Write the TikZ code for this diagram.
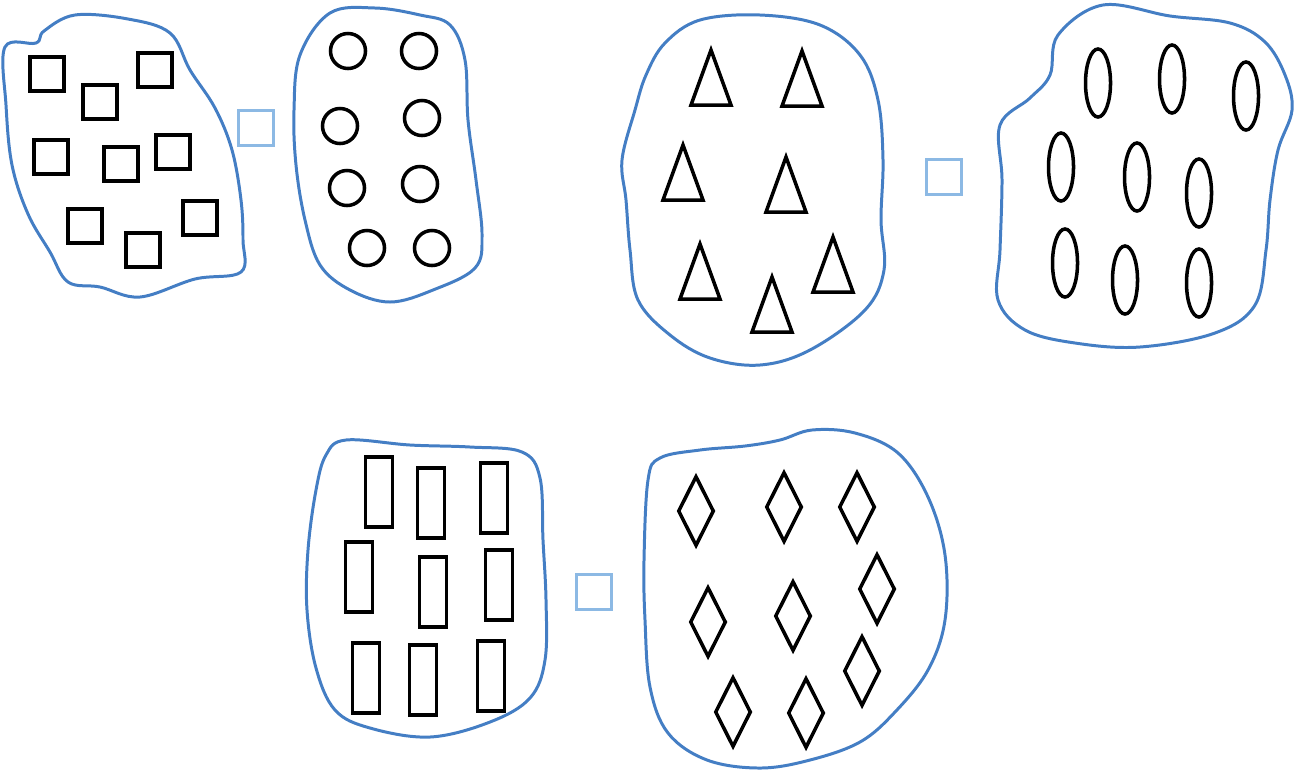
\documentclass[tikz,border=0pt]{standalone}
\usepackage{tikz}
\usetikzlibrary{shapes.geometric}
\definecolor{blobblue}{RGB}{68,126,196}
\definecolor{boxblue}{RGB}{140,185,228}

\begin{document}
\begin{tikzpicture}[
            x=0.01cm, y=-0.01cm,
            blob/.style={draw=blobblue, line width=0.85pt},
            blank/.style={rectangle, draw=boxblue, line width=0.6pt, minimum size=0.35cm, inner sep=0pt},
            sq/.style={rectangle, draw, line width=1pt, minimum size=0.34cm, inner sep=0pt},
            dot/.style={circle, draw, line width=1pt, minimum size=0.35cm, inner sep=0pt},
            oval/.style={ellipse, draw, line width=1pt, minimum width=0.25cm, minimum height=0.68cm, inner sep=0pt},
            bar/.style={rectangle, draw, line width=1pt, minimum width=0.27cm, minimum height=0.70cm, inner sep=0pt},
            gem/.style={diamond, draw, line width=1pt, minimum width=0.36cm, minimum height=0.70cm, inner sep=0pt},
            tri/.style={draw, line width=1pt, line join=miter}
        ]
        \useasboundingbox (0,0) rectangle (1298,772);

        % --- Blobs ---
        \draw[blob] plot[smooth cycle, tension=0.6] coordinates {
            (5,47) (36,43) (44,31) (75,15) (128,19) (170,33) (190,70) (215,108)
            (232,150) (241,200) (243,240) (241,272) (195,279) (140,297) (100,287)
            (68,282) (50,252) (28,214) (12,165) (6,105)};
        \draw[blob] plot[smooth cycle, tension=0.6] coordinates {
            (330,13) (375,8) (420,15) (450,25) (465,60) (468,120) (476,180) (482,235)
            (475,268) (433,290) (390,302) (350,290) (320,265) (305,220) (296,165)
            (294,110) (300,55)};
        \draw[blob] plot[smooth cycle, tension=0.6] coordinates {
            (700,20) (760,15) (820,25) (860,55) (878,100) (883,160) (881,220) (884,270)
            (865,310) (810,350) (760,365) (710,358) (670,335) (638,300) (630,250)
            (626,200) (622,160) (635,110) (646,75) (665,43)};
        \draw[blob] plot[smooth cycle, tension=0.6] coordinates {
            (1103,5) (1170,16) (1230,23) (1265,42) (1285,75) (1292,110) (1278,150)
            (1270,200) (1266,250) (1255,305) (1215,333) (1140,347) (1075,343)
            (1025,330) (998,300) (1000,250) (1002,180) (1000,125) (1030,98)
            (1050,75) (1058,35)};
        \draw[blob] plot[smooth cycle, tension=0.6] coordinates {
            (346,440) (410,445) (470,447) (522,452) (540,478) (543,540) (546,600)
            (545,660) (530,698) (490,722) (430,737) (370,728) (335,710) (316,668)
            (307,610) (308,550) (316,490) (326,455)};
        \draw[blob] plot[smooth cycle, tension=0.6] coordinates {
            (780,440) (812,430) (855,433) (898,453) (928,497) (945,555) (945,620)
            (928,670) (895,712) (860,742) (810,760) (760,768) (707,760) (668,733)
            (650,687) (645,620) (644,560) (648,480) (660,458) (700,450) (745,446)};

        % --- Answer boxes ---
        \node[blank] (b1) at (256,128) {};
        \node[blank] (b2) at (944,177) {};
        \node[blank] (b3) at (594,592) {};

        % --- Squares ---
        \foreach \x/\y [count=\i] in {47/74, 100/102, 155/70, 51/157, 121/164,
                                      173/152, 85/226, 143/250, 200/218}
            \node[sq] (s\i) at (\x,\y) {};

        % --- Circles ---
        \foreach \x/\y [count=\i] in {348/51, 419/51, 340/126, 422/118,
                                      347/188, 420/184, 367/248, 432/248}
            \node[dot] (c\i) at (\x,\y) {};

        % --- Triangles (apex given) ---
        \foreach \x/\y in {711/50, 802/51, 683/145, 786/157, 700/244,
                           772/277, 833/237}
            \draw[tri] (\x,\y) -- ++(-20,55) -- ++(40,0) -- cycle;

        % --- Ovals ---
        \foreach \x/\y [count=\i] in {1098/83, 1172/79, 1246/96, 1061/167, 1137/177,
                                      1199/193, 1065/263, 1125/280, 1199/283}
            \node[oval] (o\i) at (\x,\y) {};

        % --- Bars ---
        \foreach \x/\y [count=\i] in {379/492, 431/503, 494/498, 359/577, 433/592,
                                      499/585, 366/678, 423/680, 491/676}
            \node[bar] (r\i) at (\x,\y) {};

        % --- Diamonds ---
        \foreach \x/\y [count=\i] in {696/511, 784/507, 857/507, 708/622, 793/616,
                                      877/589, 733/712, 806/713, 862/671}
            \node[gem] (d\i) at (\x,\y) {};
        \end{tikzpicture}
\end{document}
